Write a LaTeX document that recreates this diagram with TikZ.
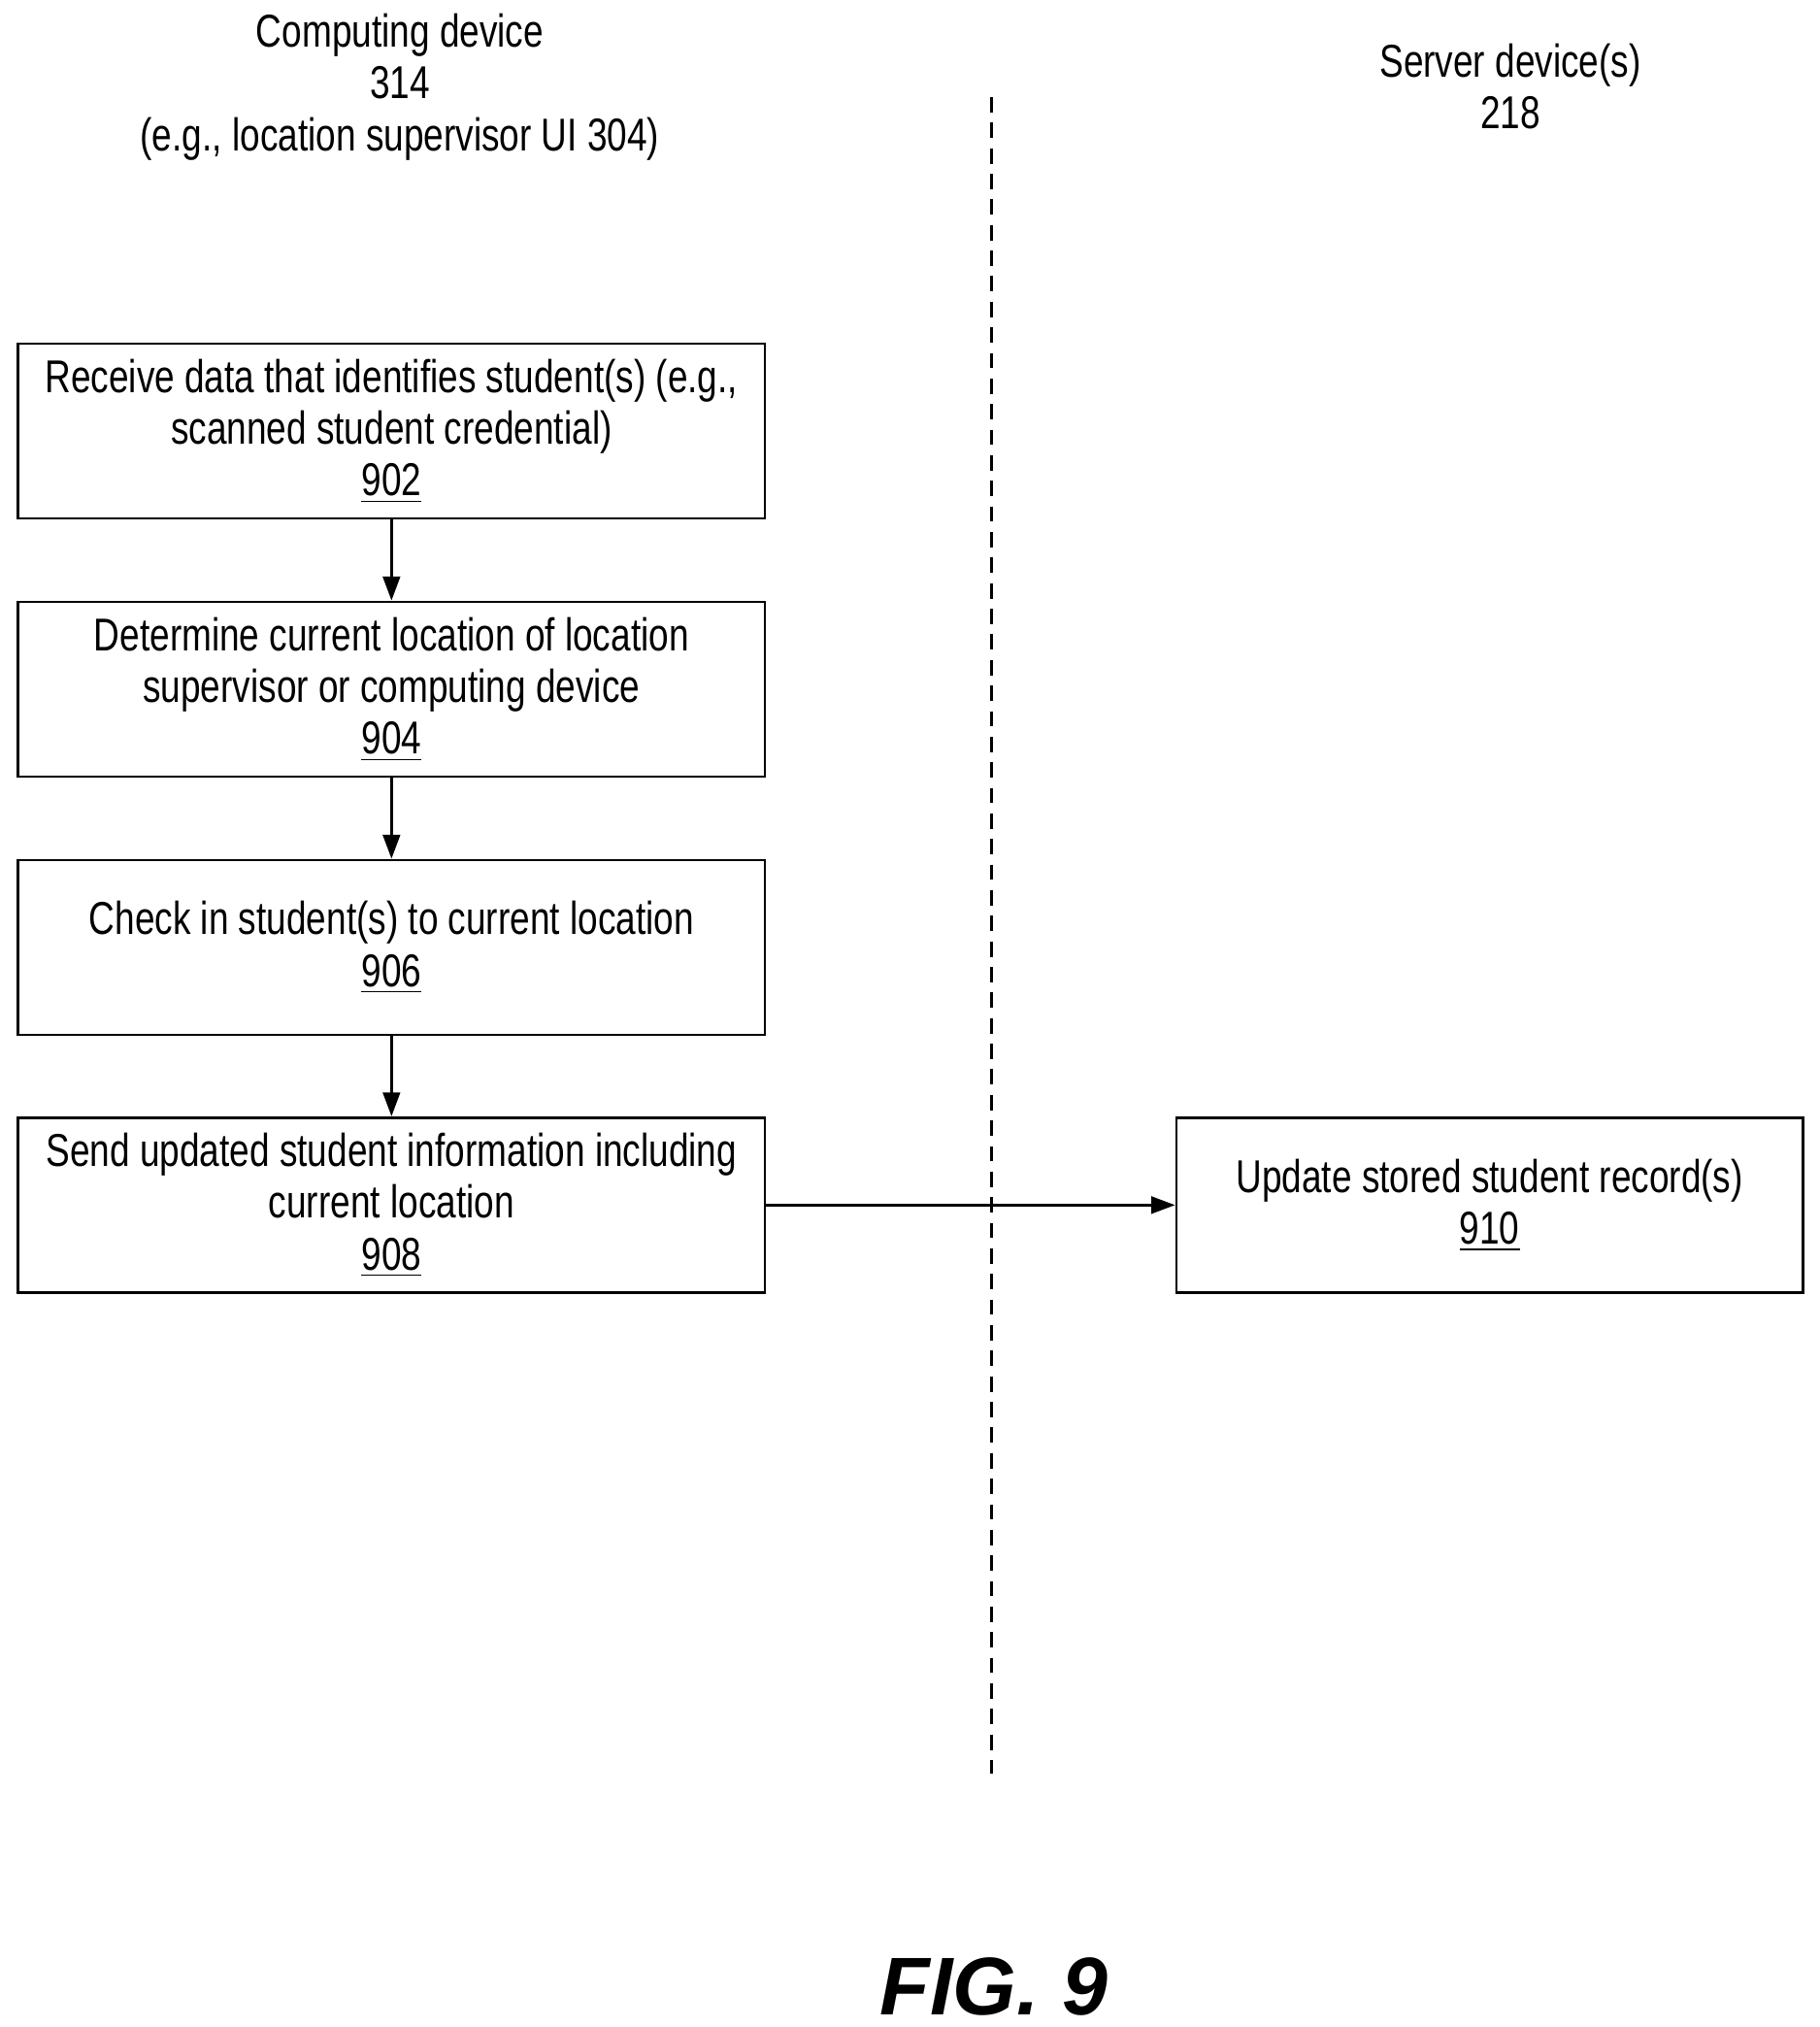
\documentclass[tikz,border=0pt]{standalone}
\usepackage{fontspec}
\setmainfont[FakeStretch=0.78]{Liberation Sans}
\newfontfamily\figfont{Liberation Sans}
\usetikzlibrary{positioning,arrows.meta}
\begin{document}
\begin{tikzpicture}[x=0.013336cm,y=-0.013336cm,
	flowbox/.style={draw, thick, minimum width=577*0.013336cm, minimum height=135*0.013336cm, align=center, font=\fontsize{13.5}{15.2}\selectfont},
	head/.style={align=center, font=\fontsize{13.5}{15.2}\selectfont},
	flow/.style={thick, -{Triangle[length=7pt,width=5pt]}}]
		\useasboundingbox (0,0) rectangle (1406,1566);
		\node[head] (dev) at (309,67) {Computing device\\314\\(e.g., location supervisor UI 304)};
		\node[head] (srv) at (1167,67) {Server device(s)\\218};
		\draw[thick, dash pattern=on 4.5pt off 3pt] (766,75) -- (766,1370);
		\node[flowbox] (902) at (302.5,333) {Receive data that identifies student(s) (e.g.,\\scanned student credential)\\\underline{902}};
		\node[flowbox] (904) at (302.5,532.5) {Determine current location of location\\supervisor or computing device\\\underline{904}};
		\node[flowbox] (906) at (302.5,732) {Check in student(s) to current location\\\underline{906}};
		\node[flowbox] (908) at (302.5,931) {Send updated student information including\\current location\\\underline{908}};
		\node[flowbox, minimum width=484*0.013336cm] (910) at (1151,931) {Update stored student record(s)\\\underline{910}};
		\draw[flow] (902) -- (904);
		\draw[flow] (904) -- (906);
		\draw[flow] (906) -- (908);
		\draw[flow] (908) -- (910);
		\node[font=\figfont\fontsize{24}{26}\selectfont\bfseries\itshape] (fig) at (768,1535) {FIG. 9};
	\end{tikzpicture}
\end{document}
